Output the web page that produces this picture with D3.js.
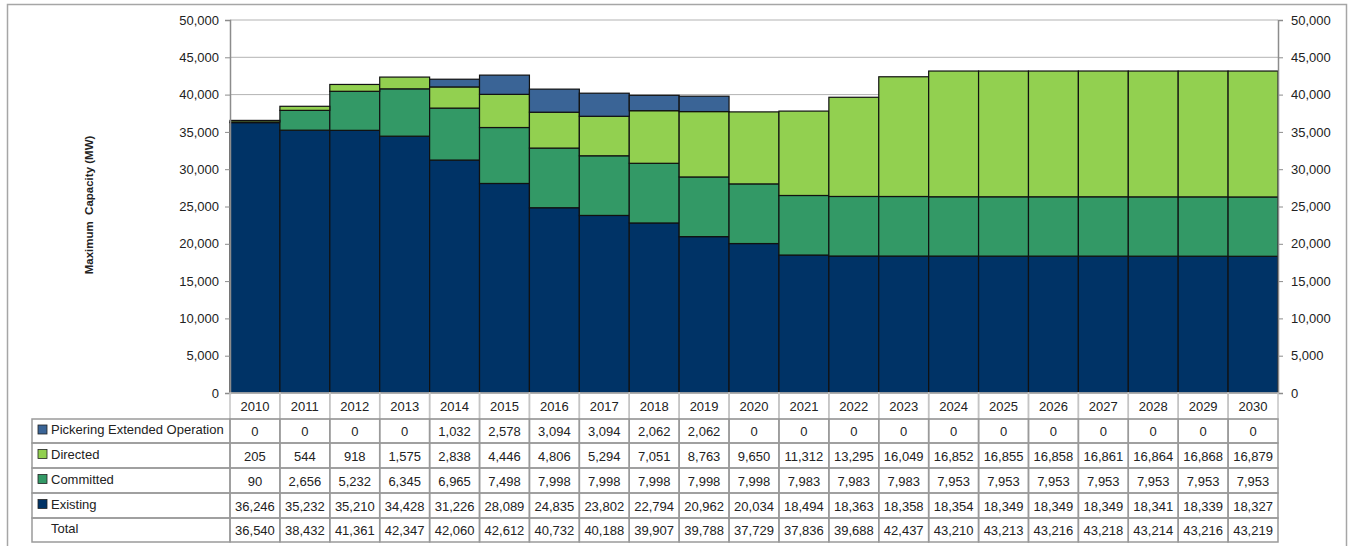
<!DOCTYPE html>
<html>
<head>
<meta charset="utf-8">
<script src="https://cdn.jsdelivr.net/npm/d3@7"></script>
<style>
  body { margin: 0; background: #fff; }
  svg text { font-family: "Liberation Sans", Arial, sans-serif; fill: #222; }
</style>
</head>
<body>
<svg width="1351" height="546"></svg>
<script>
// Data
var years = d3.range(2010, 2031).map(String);
var pickering = [0, 0, 0, 0, 1032, 2578, 3094, 3094, 2062, 2062, 0, 0, 0, 0, 0, 0, 0, 0, 0, 0, 0];
var directed = [205, 544, 918, 1575, 2838, 4446, 4806, 5294, 7051, 8763, 9650, 11312, 13295, 16049, 16852, 16855, 16858, 16861, 16864, 16868, 16879];
var committed = [90, 2656, 5232, 6345, 6965, 7498, 7998, 7998, 7998, 7998, 7998, 7983, 7983, 7983, 7953, 7953, 7953, 7953, 7953, 7953, 7953];
var existing = [36246, 35232, 35210, 34428, 31226, 28089, 24835, 23802, 22794, 20962, 20034, 18494, 18363, 18358, 18354, 18349, 18349, 18349, 18341, 18339, 18327];
var totals = [36540, 38432, 41361, 42347, 42060, 42612, 40732, 40188, 39907, 39788, 37729, 37836, 39688, 42437, 43210, 43213, 43216, 43218, 43214, 43216, 43219];
var yTicks = d3.range(0, 50001, 5000);

var series = [
  { key: "Existing", values: existing, color: "#003366" },
  { key: "Committed", values: committed, color: "#339966" },
  { key: "Directed", values: directed, color: "#92d050" },
  { key: "Pickering Extended Operation", values: pickering, color: "#3a6496" }
];

var svg = d3.select("svg");
var plotLeft = 230, plotRight = 1278, plotTop = 20, plotBottom = 393;

// outer frame
svg.append("rect")
  .attr("x", 7.5).attr("y", 4.5)
  .attr("width", 1339).attr("height", 560)
  .attr("fill", "none").attr("stroke", "#a6a6a6").attr("stroke-width", 1.5);

var x = d3.scaleBand().domain(years).range([plotLeft, plotRight]).padding(0);
var y = d3.scaleLinear().domain([0, 50000]).range([plotBottom, plotTop]);

// gridlines
svg.append("g")
  .selectAll("line")
  .data(yTicks.slice(1))
  .enter()
  .append("line")
    .attr("x1", plotLeft).attr("x2", plotRight)
    .attr("y1", function (d) { return y(d); })
    .attr("y2", function (d) { return y(d); })
    .attr("stroke", "#b3b3b3");

// stacked bars
var rows = years.map(function (yr, i) {
  var r = { year: yr };
  series.forEach(function (s) { r[s.key] = s.values[i]; });
  return r;
});
var stack = d3.stack().keys(series.map(function (s) { return s.key; }));
var layers = stack(rows);

svg.append("g")
  .selectAll("g")
  .data(layers)
  .enter()
  .append("g")
    .attr("fill", function (d, i) { return series[i].color; })
  .selectAll("rect")
  .data(function (d) { return d.filter(function (p) { return p[1] - p[0] > 0; }); })
  .enter()
  .append("rect")
    .attr("x", function (d) { return x(d.data.year); })
    .attr("width", x.bandwidth())
    .attr("y", function (d) { return y(d[1]); })
    .attr("height", function (d) { return y(d[0]) - y(d[1]); })
    .attr("stroke", "#111")
    .attr("stroke-width", 1.2);

// axes
var axisL = d3.axisLeft(y).tickValues(yTicks).tickSize(5).tickFormat(d3.format(","));
var axisR = d3.axisRight(y).tickValues(yTicks).tickSize(5).tickFormat(d3.format(","));
[[axisL, plotLeft], [axisR, plotRight]].forEach(function (a) {
  var g = svg.append("g")
    .attr("transform", "translate(" + a[1] + ",0)")
    .call(a[0]);
  g.select(".domain").attr("stroke", "#8c8c8c").attr("stroke-width", 1.5);
  g.selectAll(".tick line").attr("stroke", "#8c8c8c");
  g.selectAll(".tick text")
    .attr("font-size", 13)
    .attr("font-family", "Liberation Sans, Arial, sans-serif")
    .attr("fill", "#222")
    .attr("dx", a[1] === plotLeft ? -3 : 5);
});

svg.append("text")
  .attr("transform", "translate(93,205) rotate(-90)")
  .attr("text-anchor", "middle")
  .attr("font-size", 11.5)
  .attr("font-weight", "bold")
  .attr("xml:space", "preserve")
  .text("Maximum  Capacity (MW)");

// data table
var rowY = [393, 419, 443, 468, 493, 518, 542];
var tableRows = [
  { label: "Pickering Extended Operation", values: pickering, color: "#3a6496" },
  { label: "Directed", values: directed, color: "#92d050" },
  { label: "Committed", values: committed, color: "#339966" },
  { label: "Existing", values: existing, color: "#003366" },
  { label: "Total", values: totals, color: null }
];
var fmt = d3.format(",");
var tbl = svg.append("g");
var gridColor = "#9a9a9a";

// header row (years)
years.forEach(function (yr) {
  tbl.append("rect")
    .attr("x", x(yr)).attr("y", rowY[0])
    .attr("width", x.bandwidth()).attr("height", rowY[1] - rowY[0])
    .attr("fill", "none").attr("stroke", "#c4c4c4").attr("stroke-width", 1.5);
  tbl.append("text")
    .attr("x", x(yr) + x.bandwidth() / 2)
    .attr("y", (rowY[0] + rowY[1]) / 2 + 5)
    .attr("text-anchor", "middle")
    .attr("font-size", 13)
    .text(yr);
});

tableRows.forEach(function (r, i) {
  var y0 = rowY[i + 1], y1 = rowY[i + 2], cy = (y0 + y1) / 2;
  tbl.append("rect")
    .attr("x", 32).attr("y", y0)
    .attr("width", plotLeft - 32).attr("height", y1 - y0)
    .attr("fill", "none").attr("stroke", gridColor).attr("stroke-width", 1.5);
  if (r.color) {
    tbl.append("rect")
      .attr("x", 38).attr("y", cy - 6)
      .attr("width", 9).attr("height", 9)
      .attr("fill", r.color).attr("stroke", "#222").attr("stroke-width", 0.8);
  }
  tbl.append("text")
    .attr("x", 51).attr("y", cy + 3)
    .attr("font-size", 13)
    .text(r.label);
  r.values.forEach(function (v, j) {
    tbl.append("rect")
      .attr("x", x(years[j])).attr("y", y0)
      .attr("width", x.bandwidth()).attr("height", y1 - y0)
      .attr("fill", "none").attr("stroke", gridColor).attr("stroke-width", 1.5);
    tbl.append("text")
      .attr("x", x(years[j]) + x.bandwidth() / 2)
      .attr("y", cy + 5)
      .attr("text-anchor", "middle")
      .attr("font-size", 13)
      .text(fmt(v));
  });
});
</script>
</body>
</html>
